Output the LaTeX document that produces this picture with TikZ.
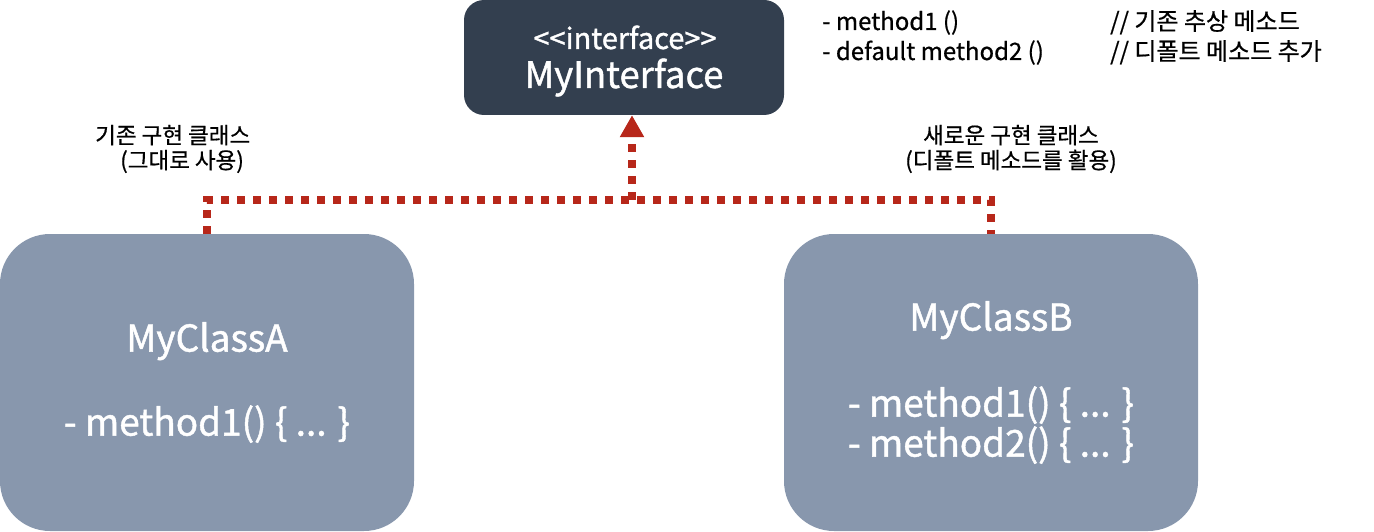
\documentclass[tikz,border=0pt]{standalone}
\usepackage{fontspec}
\setmainfont{Noto Sans CJK KR}
\newfontfamily\medfont[FakeBold=1.2]{Noto Sans CJK KR}
\newfontfamily\lblfont[FakeBold=0.6]{Noto Sans CJK KR}
\usetikzlibrary{arrows.meta,calc}
\definecolor{ifill}{HTML}{333F4F}
\definecolor{cfill}{HTML}{8897AD}
\definecolor{dred}{HTML}{B7271A}
\tikzset{
  ibox/.style={rectangle,rounded corners=20pt,fill=ifill,minimum width=320pt,minimum height=115pt,inner sep=0pt},
  itext/.style={anchor=base,text=white,inner sep=0pt},
  cbox/.style={rectangle,rounded corners=50pt,fill=cfill,text=white,minimum width=414pt,minimum height=297pt,inner sep=0pt,align=center,font=\medfont\fontsize{37}{40}\selectfont},
  dots/.style={draw=dred,line width=8pt,dash pattern=on 8pt off 8pt},
  lbl/.style={font=\lblfont\fontsize{22.5}{25}\selectfont,inner sep=0pt},
  note/.style={anchor=base west,font=\lblfont\fontsize{24}{28}\selectfont,inner sep=0pt}
}
\begin{document}
\begin{tikzpicture}[x=1pt,y=-1pt]
\useasboundingbox (0,0) rectangle (1374,532);
\node[ibox] (I) at (624,57.5) {};
\node[itext,font=\medfont\fontsize{29}{32}\selectfont] (it) at (625,49) {{<}{<}interface{>}{>}};
\node[itext,font=\medfont\fontsize{36.5}{40}\selectfont] (in) at (624,88) {MyInterface};
\node[cbox] (A) at (207,382.5) {MyClassA\\[44pt]- method1() \{ ... \}};
\node[cbox] (B) at (991,382.5) {MyClassB\\[46pt]- method1() \{ ... \}\\- method2() \{ ... \}};
\node[lbl,align=left,anchor=west] (la) at (95,149) {기존 구현 클래스\\\hspace*{25pt}(그대로 사용)};
\node[lbl,align=center] (lb) at (1011,149) {새로운 구현 클래스\\(디폴트 메소드를 활용)};
\node[note] (n1) at (822,30) {- method1 ()};
\node[note] (n2) at (822,60) {- default method2 ()};
\node[note] (c1) at (1110,30) {// 기존 추상 메소드};
\node[note] (c2) at (1110,60) {// 디폴트 메소드 추가};
\coordinate (j) at (632,200);
\draw[dots] (A.north) -- ++(0,-34) -| (B.north);
\draw[dots,-{Triangle[length=22pt,width=23pt]}] (j) -- (j |- I.south);
\end{tikzpicture}
\end{document}
